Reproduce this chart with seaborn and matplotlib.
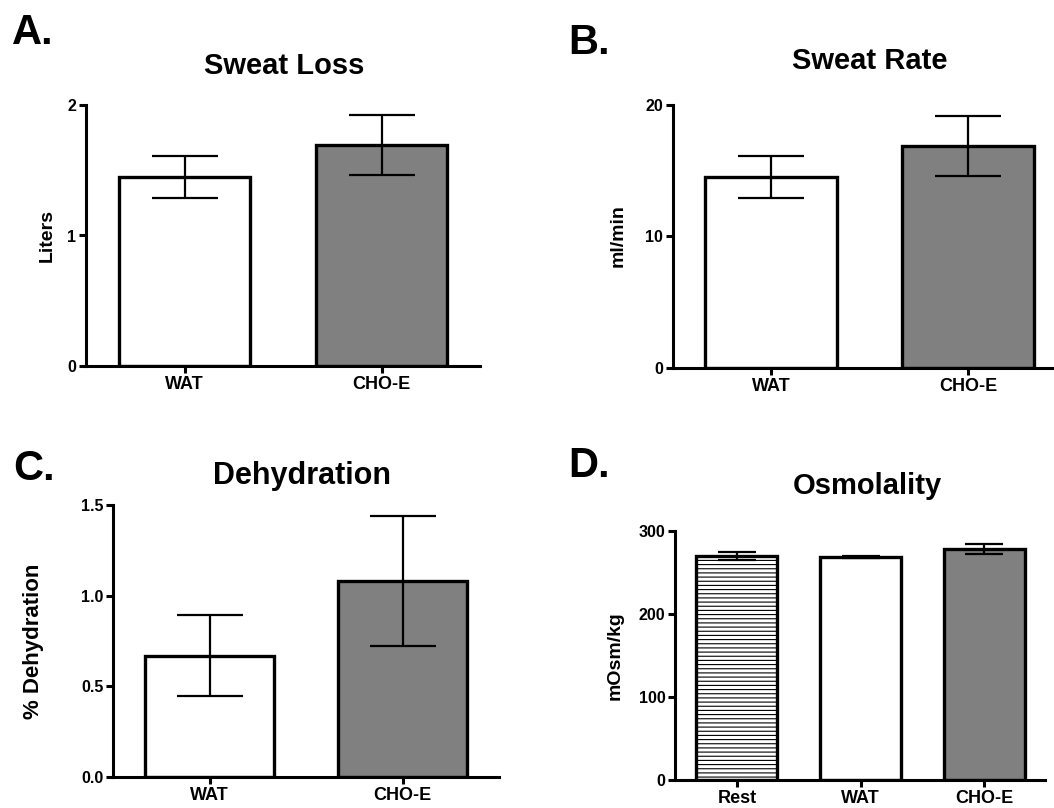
import matplotlib
matplotlib.use("Agg")
import matplotlib.pyplot as plt
import seaborn as sns

# values (mean, SEM)
two_groups = ["WAT", "CHO-E"]
three_groups = ["Rest", "WAT", "CHO-E"]

sweat_loss = [1.45, 1.69]
sweat_loss_err = [0.16, 0.23]

sweat_rate = [14.5, 16.9]
sweat_rate_err = [1.6, 2.3]

dehydration = [0.67, 1.08]
dehydration_err = [0.225, 0.36]

osmolality = [270, 269, 278]
osmolality_err = [4.5, 1.0, 6.0]

sns.set_style("ticks")
plt.rcParams["font.family"] = ["Liberation Sans", "DejaVu Sans"]
plt.rcParams["font.weight"] = "bold"
plt.rcParams["text.color"] = "black"
plt.rcParams["xtick.color"] = "black"
plt.rcParams["ytick.color"] = "black"
plt.rcParams["hatch.linewidth"] = 0.8
plt.rcParams["hatch.color"] = "#333333"

W, H = 1054, 808
fig = plt.figure(figsize=(W / 100, H / 100), dpi=100)


def px_axes(left, right, top, bottom):
    return fig.add_axes([left / W, 1 - bottom / H, (right - left) / W, (bottom - top) / H])


def panel(ax, cats, vals, errs, colors, ymax, yticks, yticklabels, xright, capsize, width):
    sns.barplot(x=cats, y=vals, hue=cats, palette=colors, legend=False,
                width=width, edgecolor="black", linewidth=2.4, ax=ax)
    ax.errorbar(x=list(range(len(cats))), y=vals, yerr=errs, fmt="none",
                ecolor="black", elinewidth=1.6, capsize=capsize, capthick=1.6, zorder=5)
    ax.set_ylim(0, ymax)
    ax.set_xlim(-0.5, xright)
    ax.set_yticks(yticks)
    ax.set_yticklabels(yticklabels, fontsize=11.5, fontweight="bold", color="black")
    ax.set_xticks(range(len(cats)))
    ax.set_xticklabels(cats, fontsize=13, fontweight="bold", color="black")
    ax.tick_params(axis="both", length=5, width=2.2, pad=2, color="black")
    for s in ["top", "right"]:
        ax.spines[s].set_visible(False)
    for s in ["left", "bottom"]:
        ax.spines[s].set_linewidth(2.2)
        ax.spines[s].set_color("black")
    ax.set_xlabel("")
    ax.set_ylabel("")
    ax.set_facecolor("white")


# A
axA = px_axes(86, 480, 105, 366)
panel(axA, two_groups, sweat_loss, sweat_loss_err, ["white", "#808080"],
      2, [0, 1, 2], ["0", "1", "2"], 1.5, 24, 0.665)
# B
axB = px_axes(673, 1054, 105, 368)
panel(axB, two_groups, sweat_rate, sweat_rate_err, ["white", "#808080"],
      20, [0, 10, 20], ["0", "10", "20"], 1.437, 24, 0.67)
# C
axC = px_axes(113, 499, 505, 777)
panel(axC, two_groups, dehydration, dehydration_err, ["white", "#808080"],
      1.5, [0, 0.5, 1.0, 1.5], ["0.0", "0.5", "1.0", "1.5"], 1.5, 24, 0.668)
# D
axD = px_axes(675, 1045, 531, 780)
panel(axD, three_groups, osmolality, osmolality_err, ["white", "white", "#808080"],
      300, [0, 100, 200, 300], ["0", "100", "200", "300"], 2.49, 14, 0.656)
axD.patches[0].set_hatch("----")

# titles, panel letters, y labels
def ftext(x, y, s, **kw):
    fig.text(x / W, 1 - y / H, s, color="black", **kw)

ftext(284, 74, "Sweat Loss", ha="center", va="baseline", fontsize=21, fontweight="bold")
ftext(870, 69, "Sweat Rate", ha="center", va="baseline", fontsize=21, fontweight="bold")
ftext(302, 484, "Dehydration", ha="center", va="baseline", fontsize=22, fontweight="bold")
ftext(867, 494, "Osmolality", ha="center", va="baseline", fontsize=21, fontweight="bold")

ftext(12, 44, "A.", ha="left", va="baseline", fontsize=30, fontweight="bold")
ftext(568, 54, "B.", ha="left", va="baseline", fontsize=30, fontweight="bold")
ftext(13, 480, "C.", ha="left", va="baseline", fontsize=30, fontweight="bold")
ftext(568, 477, "D.", ha="left", va="baseline", fontsize=30, fontweight="bold")

ftext(47, 236, "Liters", ha="center", va="center", rotation=90, fontsize=14, fontweight="bold")
ftext(618, 236, "ml/min", ha="center", va="center", rotation=90, fontsize=14, fontweight="bold")
ftext(34, 641, "% Dehydration", ha="center", va="center", rotation=90, fontsize=16, fontweight="bold")
ftext(615, 656, "mOsm/kg", ha="center", va="center", rotation=90, fontsize=14, fontweight="bold")

fig.savefig("out.png", dpi=100, facecolor="white")
